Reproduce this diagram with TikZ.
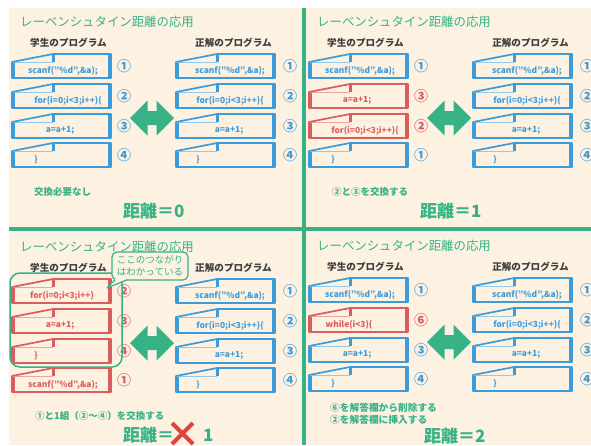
\documentclass[tikz,border=0pt]{standalone}
\usepackage{fontspec}
\setmainfont{Noto Sans CJK JP}
\definecolor{cream}{HTML}{FDF2E2}
\definecolor{lgreen}{HTML}{36B286}
\definecolor{cblue}{HTML}{3E9BDA}
\definecolor{cred}{HTML}{DA5D5D}
\definecolor{xred}{HTML}{E0453A}
\definecolor{dgray}{HTML}{3C3C3C}
\tikzset{
  pics/card/.style={code={
    \fill[cream] (0,8) -- (41,0) -- (99,0) -- (99,24) -- (0,24) -- cycle;
    \draw[#1!55, line width=1pt] (2,8.5) -- (41,8.5);
    \draw[#1, line width=1.7pt, line join=round] (0,8) -- (41,0) -- (99,0) -- (99,24) -- (0,24) -- cycle;
    \draw[#1, line width=3.2pt] (1.6,8.5) -- (1.6,23);
    \draw[#1, line width=3.2pt] (98,0.5) -- (98,23.5);
    \draw[#1, line width=3pt] (41,0.3) -- (41,7.5);
  }},
  codetxt/.style={font=\bfseries\fontsize{8.4}{9}\selectfont, inner sep=0pt},
  num/.style={font=\bfseries\fontsize{14}{14}\selectfont, inner sep=0pt},
  ttl/.style={anchor=west, inner sep=0pt, text=lgreen, font=\fontsize{12.4}{13}\selectfont},
  hd/.style={inner sep=0pt, text=dgray, font=\bfseries\fontsize{9.6}{10}\selectfont},
  desc/.style={anchor=west, inner sep=0pt, text=lgreen, font=\bfseries\fontsize{9.5}{10}\selectfont},
  dist/.style={anchor=west, inner sep=0pt, text=lgreen, font=\bfseries\fontsize{17}{18}\selectfont},
}
\newcommand\cardrow[8]{%
  \pic at (#2,#3) {card=#4};
  \node[codetxt, text=#4] (#1) at ({#2+#6},{#3+16.5}) {#5};
  \node[num, text=#4] (#1n) at ({#2+#8},{#3+12}) {#7};
}
\newcommand\panelbase[1]{%
  \node[ttl] (#1title) at (20,22) {レーベンシュタイン距離の応用};
  \node[hd] (#1hs) at (68.5,43) {学生のプログラム};
  \node[hd] (#1hc) at (233.5,43) {正解のプログラム};
  \cardrow{#1r1}{176}{54}{cblue}{scanf("\%d",\&a);}{54}{①}{114}
  \cardrow{#1r2}{176}{84}{cblue}{for(i=0;i<3;i++)\{}{54}{②}{114}
  \cardrow{#1r3}{176}{114}{cblue}{a=a+1;}{53}{③}{114}
  \cardrow{#1r4}{176}{143}{cblue}{\}}{22}{④}{114}
  \fill[lgreen] (130,118) -- (147.5,100.5) -- (147.5,111) -- (156.5,111) -- (156.5,100.5)
     -- (174,118) -- (156.5,135.5) -- (156.5,125) -- (147.5,125) -- (147.5,135.5) -- cycle;
}
\begin{document}
\begin{tikzpicture}[x=1pt,y=-1pt]
\useasboundingbox (0,0) rectangle (591,445);
\fill[white] (0,0) rectangle (591,445);
\fill[cream] (9,8) rectangle (591,445);
\draw[lgreen, line width=4.5pt] (304,8) -- (304,445);
\draw[lgreen, line width=4.5pt] (9,229) -- (591,229);

% panel 1
\begin{scope}
  \panelbase{a}
  \cardrow{al1}{12}{54}{cblue}{scanf("\%d",\&a);}{51}{①}{112}
  \cardrow{al2}{12}{84}{cblue}{for(i=0;i<3;i++)\{}{56}{②}{112}
  \cardrow{al3}{12}{114}{cblue}{a=a+1;}{48}{③}{112}
  \cardrow{al4}{12}{143}{cblue}{\}}{24}{④}{112}
  \node[desc] (adesc) at (34,192) {交換必要なし};
  \node[dist] (adist) at (123,211) {距離＝0};
\end{scope}

% panel 2
\begin{scope}[shift={(297,0)}]
  \panelbase{b}
  \cardrow{bl1}{12}{54}{cblue}{scanf("\%d",\&a);}{51}{①}{112}
  \cardrow{bl2}{12}{84}{cred}{a=a+1;}{48}{③}{112}
  \cardrow{bl3}{12}{114}{cred}{for(i=0;i<3;i++)\{}{56}{②}{112}
  \cardrow{bl4}{12}{143}{cblue}{\}}{24}{①}{112}
  \node[desc] (bdesc) at (35,192) {②と③を交換する};
  \node[dist] (bdist) at (123,211) {距離＝1};
\end{scope}

% panel 3
\begin{scope}[shift={(0,225)}]
  \panelbase{c}
  \cardrow{cl1}{12}{54}{cred}{for(i=0;i<3;i++)}{50}{②}{112}
  \cardrow{cl2}{12}{84}{cred}{a=a+1;}{48}{③}{112}
  \cardrow{cl3}{12}{114}{cred}{\}}{24}{④}{112}
  \cardrow{cl4}{12}{143}{cred}{scanf("\%d",\&a);}{51}{①}{112}
  \draw[lgreen, line width=1.5pt, rounded corners=10pt] (10,48) rectangle (122,142);
  \node[draw=lgreen, fill=cream, line width=1.2pt, rounded corners=5pt, text=lgreen,
        minimum width=76pt, minimum height=28pt, inner sep=1pt, align=center,
        font=\fontsize{9.5}{12}\selectfont] (ccall) at (150,41) {ここのつながり\\はわかっている};
  \fill[cream] (115,54.2) -- (107,63) -- (127,54.2) -- cycle;
  \draw[lgreen, line width=1.2pt, line join=round] (115,54.8) -- (107,63) -- (127,54.8);
  \node[desc] (cdesc) at (35,191) {①と1組（②〜④）を交換する};
  \node[dist] (cdist) at (123,210) {距離＝};
  \node[dist] (cone) at (203,210) {1};
  \draw[xred, line width=4pt] (172,198) -- (193,219) (193,198) -- (172,219);
\end{scope}

% panel 4
\begin{scope}[shift={(297,224)}]
  \panelbase{d}
  \cardrow{dl1}{12}{54}{cblue}{scanf("\%d",\&a);}{51}{①}{112}
  \cardrow{dl2}{12}{84}{cred}{while(i<3)\{}{40}{⑥}{112}
  \cardrow{dl3}{12}{114}{cblue}{a=a+1;}{48}{③}{112}
  \cardrow{dl4}{12}{143}{cblue}{\}}{24}{④}{112}
  \node[desc, font=\bfseries\fontsize{9.7}{10}\selectfont] (ddesc1) at (33,184) {⑥を解答欄から削除する};
  \node[desc, font=\bfseries\fontsize{9.7}{10}\selectfont] (ddesc2) at (33,196) {②を解答欄に挿入する};
  \node[dist] (ddist) at (127,212) {距離＝2};
\end{scope}
\end{tikzpicture}
\end{document}
